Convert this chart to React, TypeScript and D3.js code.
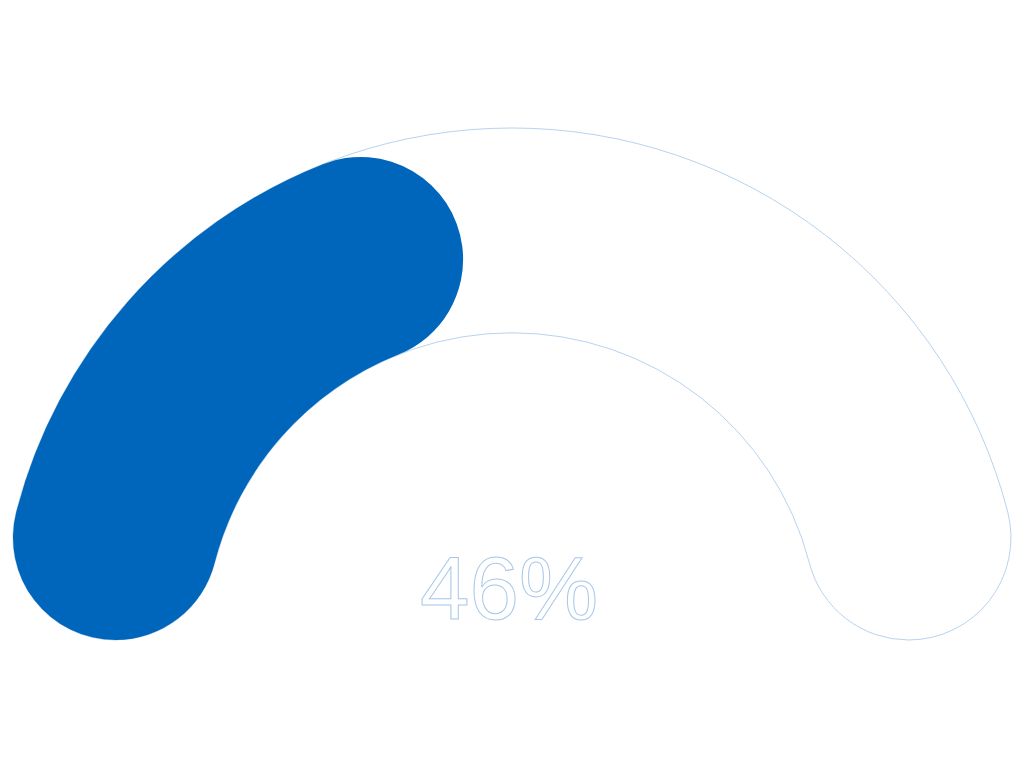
import React, { useEffect, useRef } from "react";
import * as d3 from "d3";

// gauge values
const gaugeValue = [46];
const gaugeDomain = [0, 100];
const gaugeLabel = ["46%"];

const App = () => {
  const chartRef = useRef<SVGSVGElement>(null);

  useEffect(() => {
    const width = 1008;
    const height = 752;
    const cx = 504;
    const cy = 632;
    const outer = 512;
    const inner = outer * 0.6;

    d3.select(chartRef.current).selectAll("*").remove();

    const svg = d3
      .select(chartRef.current)
      .attr("width", width)
      .attr("height", height);

    // value -> angle
    const angle = d3
      .scaleLinear()
      .domain(gaugeDomain)
      .range([-Math.PI / 2, Math.PI / 2]);

    const arc = d3
      .arc<any>()
      .innerRadius(inner)
      .outerRadius(outer)
      .cornerRadius((outer - inner) / 2);

    const g = svg.append("g").attr("transform", `translate(${cx},${cy})`);

    // background track
    g.append("path")
      .attr("d", arc({ startAngle: angle(gaugeDomain[0]), endAngle: angle(gaugeDomain[1]) }))
      .attr("fill", "#ffffff")
      .attr("stroke", "#b8d3ee")
      .attr("stroke-width", 1);

    // value bar
    g.selectAll(".bar")
      .data(gaugeValue)
      .enter()
      .append("path")
      .attr("class", "bar")
      .attr("d", (d) => arc({ startAngle: angle(gaugeDomain[0]), endAngle: angle(d) }))
      .attr("fill", "#0066bb");

    // label
    g.append("text")
      .attr("x", -3)
      .attr("y", -21)
      .attr("text-anchor", "middle")
      .attr("font-family", "'Liberation Sans', Arial, sans-serif")
      .attr("font-size", 89)
      .attr("fill", "#ffffff")
      .attr("stroke", "#a8c8ea")
      .attr("stroke-width", 1)
      .text(gaugeLabel[0]);
  }, []);

  return <svg ref={chartRef} style={{ display: "block" }}></svg>;
};

export default App;
